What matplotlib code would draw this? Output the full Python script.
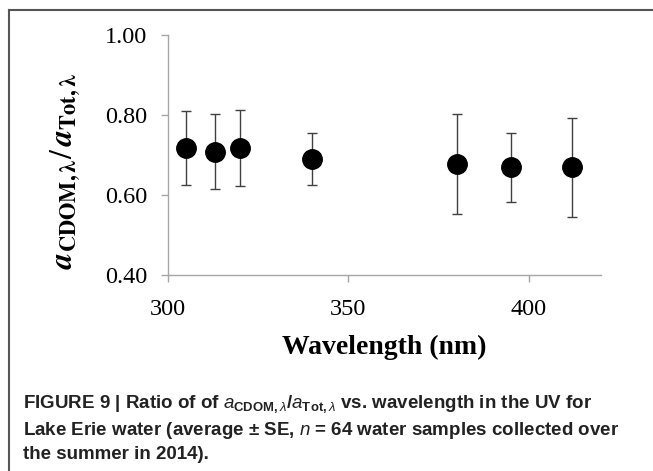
import matplotlib
matplotlib.use("Agg")
import matplotlib.pyplot as plt
from matplotlib.lines import Line2D

# data (mean ratio +/- SE)
wavelength = [305, 313, 320, 340, 380, 395, 412]
ratio = [0.718, 0.708, 0.717, 0.690, 0.678, 0.669, 0.669]
se = [0.092, 0.094, 0.095, 0.065, 0.125, 0.087, 0.124]

x_ticks = [300, 350, 400]
y_ticks = [0.40, 0.60, 0.80, 1.00]

plt.rcParams['mathtext.fontset'] = 'custom'
plt.rcParams['mathtext.rm'] = 'Liberation Sans:bold'
plt.rcParams['mathtext.bf'] = 'Liberation Sans:bold'
plt.rcParams['mathtext.it'] = 'Liberation Sans:italic'

fig = plt.figure(figsize=(6.53, 4.71), dpi=100)
ax = fig.add_axes([0.2573, 0.4161, 0.6631, 0.5096])

ax.errorbar(wavelength, ratio, yerr=se, fmt='o', color='black',
            markersize=14, ecolor='#404040', elinewidth=1,
            capsize=3.5, capthick=1)

ax.set_xlim(300, 420)
ax.set_ylim(0.40, 1.00)
ax.set_xticks(x_ticks)
ax.set_yticks(y_ticks)
ax.set_xticklabels([str(t) for t in x_ticks])
ax.set_yticklabels([f"{t:.2f}" for t in y_ticks])

for s in ['top', 'right']:
    ax.spines[s].set_visible(False)
for s in ['left', 'bottom']:
    ax.spines[s].set_color('#a6a6a6')
    ax.spines[s].set_linewidth(1)

ax.tick_params(axis='both', colors='#a6a6a6', length=5, width=1,
               labelcolor='black', labelsize=17.5)
ax.tick_params(axis='y', pad=10)
ax.tick_params(axis='x', pad=12)
for lab in ax.get_xticklabels() + ax.get_yticklabels():
    lab.set_fontfamily('Liberation Serif')

ax.set_xlabel("Wavelength (nm)", fontfamily='Liberation Serif',
              fontweight='bold', fontsize=20, labelpad=11)
ax.set_ylabel(r"$\mathbfit{a}_{\mathbf{CDOM,\lambda}}/\,\mathbfit{a}_{\mathbf{Tot,\lambda}}$",
              fontsize=23, math_fontfamily='stix')
ax.yaxis.set_label_coords(-0.196, 0.433)

# frame around the figure panel (top and left edges only)
fig.add_artist(Line2D([0.0138, 1.0], [0.9788, 0.9788], transform=fig.transFigure,
                      color='#555555', lw=1.5))
fig.add_artist(Line2D([0.0138, 0.0138], [0.0, 0.9788], transform=fig.transFigure,
                      color='#555555', lw=1.5))

cap_font = ['Liberation Sans', 'DejaVu Sans']
cap_lines = [
    r"FIGURE 9 | Ratio of of $\mathit{a}_{\mathbf{CDOM,}\lambda}/\mathit{a}_{\mathbf{Tot,}\lambda}$ vs. wavelength in the UV for",
    r"Lake Erie water (average $\pm$ SE, $\mathit{n}$ = 64 water samples collected over",
    "the summer in 2014).",
]
cap_y = [0.1338, 0.0764, 0.0255]
for txt, yy in zip(cap_lines, cap_y):
    fig.text(0.035, yy, txt, fontsize=13.5, fontweight='bold', family=cap_font,
             color='#222222', va='baseline', ha='left')

fig.savefig("out.png", dpi=100)
